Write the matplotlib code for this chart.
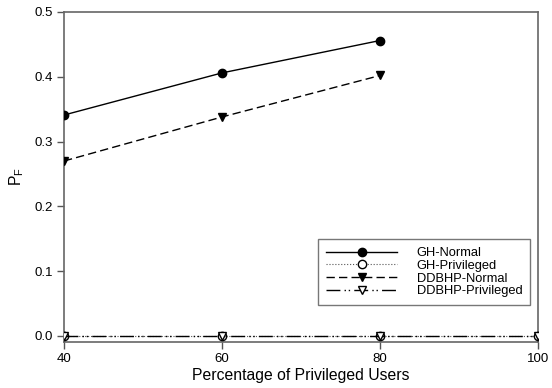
import matplotlib
matplotlib.use("Agg")
import matplotlib.pyplot as plt

#---------------------------------------
# donnees
pct = [40, 60, 80, 100]
pct_normal = [40, 60, 80]
gh_normal = [0.341, 0.406, 0.456]
gh_priv = [0.0, 0.0, 0.0, 0.0]
ddbhp_normal = [0.270, 0.338, 0.402]
ddbhp_priv = [0.0, 0.0, 0.0, 0.0]
xticks = [40, 60, 80, 100]
yticks = [0.0, 0.1, 0.2, 0.3, 0.4, 0.5]
#---------------------------------------

plt.rcParams['font.family'] = ['Liberation Sans', 'DejaVu Sans']
plt.rcParams['mathtext.default'] = 'regular'

fig = plt.figure(figsize=(5.52, 3.88), dpi=100)
ax = fig.add_axes([64/552, 1 - 342/388, 474/552, 330/388])

ax.plot(pct_normal, gh_normal, '-', color='black', lw=1, marker='o',
        ms=6, mfc='black', mec='black', label='GH-Normal', zorder=3)
ax.plot(pct, gh_priv, ':', color='#555555', lw=0.8, marker='o',
        ms=6, mfc='white', mec='black', label='GH-Privileged', zorder=3)
ax.plot(pct_normal, ddbhp_normal, '--', color='black', lw=1, marker='v',
        ms=5.5, mfc='black', mec='black', dashes=(6, 3), label='DDBHP-Normal', zorder=3)
ax.plot(pct, ddbhp_priv, '-', color='black', lw=1, marker='v',
        ms=5.5, mfc='white', mec='black', dashes=(10, 3, 1, 2, 1, 3),
        label='DDBHP-Privileged', zorder=4)

ax.set_xlim(40, 100)
ax.set_ylim(-0.0093, 0.5)
ax.set_xticks(xticks)
ax.set_yticks(yticks)
ax.set_yticklabels(['%.1f' % v for v in yticks])
ax.tick_params(direction='out', length=5, width=1, color='#555555',
               labelsize=9.5, pad=3)
for s in ax.spines.values():
    s.set_color('#666666')
    s.set_linewidth(1.2)

ax.set_xlabel('Percentage of Privileged Users', fontsize=11.3, labelpad=2)
ax.set_ylabel('P$_F$', fontsize=11.3, labelpad=6)

leg = ax.legend(loc='lower right', bbox_to_anchor=(0.983, 0.112),
                fontsize=9.3, frameon=True, fancybox=False, handlelength=5.5,
                labelspacing=0.05, borderpad=0.6, handletextpad=1.5,
                borderaxespad=0)
leg.get_frame().set_edgecolor('#555555')
leg.get_frame().set_linewidth(1)

fig.savefig('out.png', dpi=100)
